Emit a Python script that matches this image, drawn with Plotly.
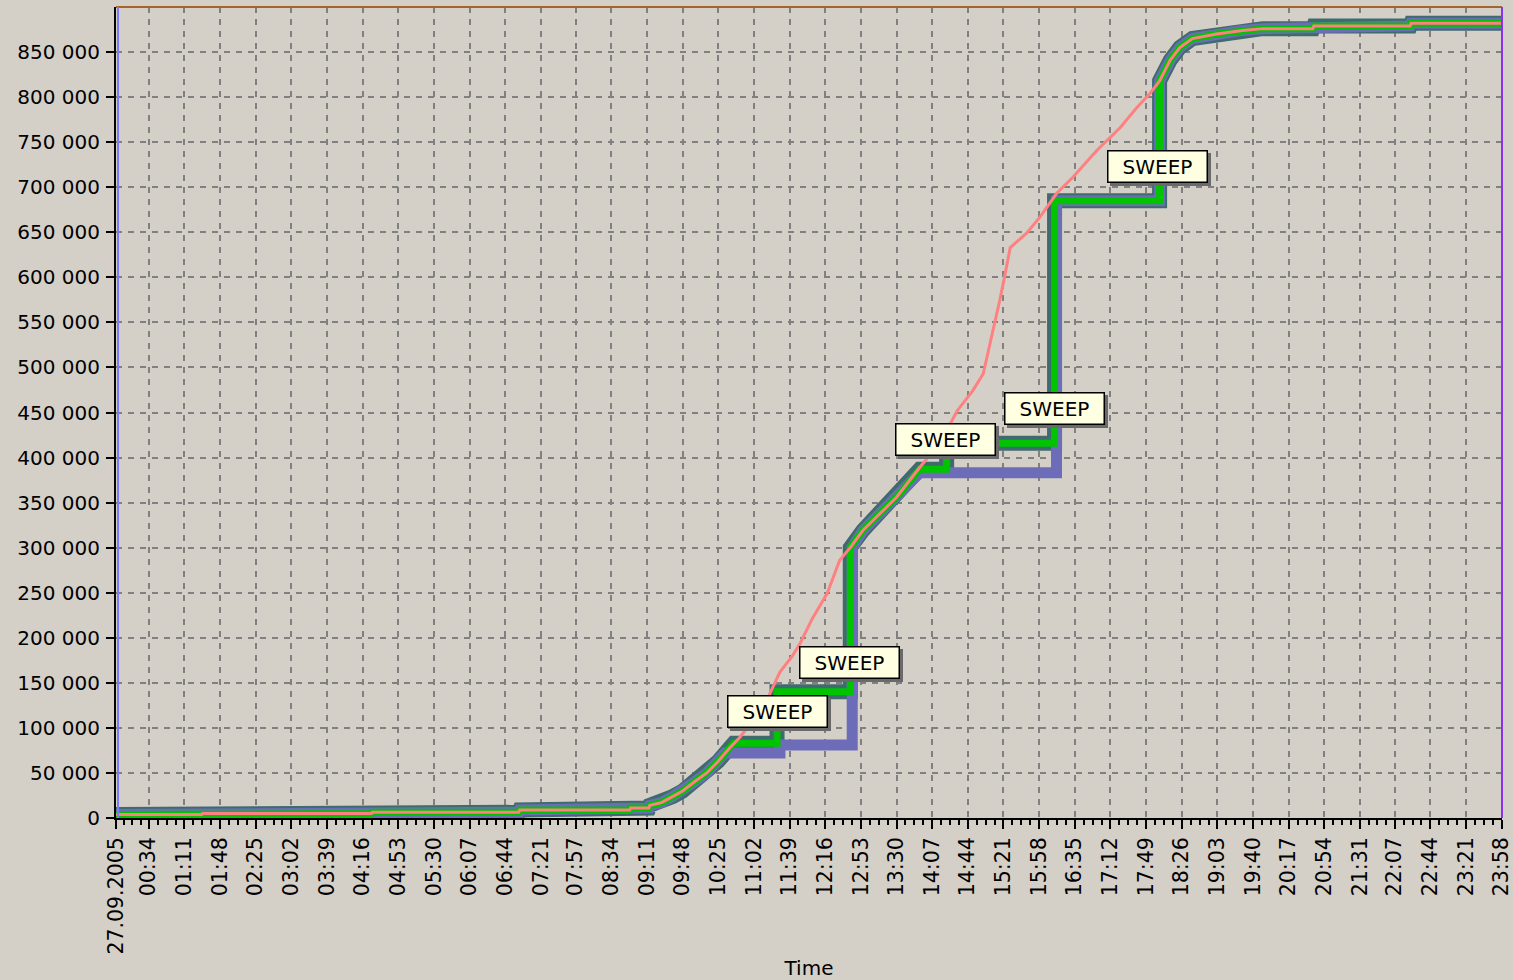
import plotly.graph_objects as go
import pandas as pd

DAY = "2005-09-27 "

# ---- shared low segment (all series coincide) ----
low_t = ["00:00", "01:29", "01:30", "04:25", "04:26", "06:58", "06:59", "08:53", "08:54",
         "09:13", "09:14", "09:26", "09:38", "09:48", "10:00", "10:13", "10:25"]
low_v = [3900, 3900, 5000, 5000, 6300, 6300, 8900, 8900, 11100,
         11100, 14000, 17000, 24000, 30000, 40000, 50000, 63000]

# ---- actual (pink) middle segment ----
pink_mid_t = ["10:37", "10:47", "11:01", "11:15", "11:29", "11:42", "11:50", "12:03", "12:18",
              "12:31", "12:42", "12:55", "13:12", "13:30", "13:54", "14:15", "14:33", "14:49",
              "15:00", "15:04", "15:10", "15:17", "15:22", "15:28", "15:45", "15:59", "16:16",
              "16:33", "16:58", "17:22", "17:39", "17:53", "18:03"]
pink_mid_v = [78000, 89000, 108000, 130000, 162000, 180000, 194000, 222000, 249000,
              286000, 300000, 319000, 337000, 356000, 389000, 416000, 452000, 474000,
              493000, 512000, 537000, 574000, 600000, 633000, 649000, 667000, 693000,
              711000, 741000, 766000, 788000, 804000, 818000]

# ---- green (sweep) middle segment ----
green_mid_t = ["10:37", "10:41", "11:26", "11:26", "12:42", "12:42", "12:55", "13:12", "13:30",
               "13:54", "14:22", "14:22", "16:14", "16:14", "18:03", "18:03"]
green_mid_v = [78000, 83000, 83000, 140000, 140000, 300000, 319000, 337000, 356000,
               387000, 387000, 416000, 416000, 685000, 685000, 818000]

# ---- blue middle segment ----
blue_mid_t = ["10:32", "11:29", "11:29", "12:44", "12:44", "12:55", "13:12", "13:30",
              "13:54", "16:16", "16:16", "18:03", "18:03"]
blue_mid_v = [72000, 72000, 81000, 81000, 300000, 319000, 337000, 356000,
              383000, 383000, 685000, 685000, 818000]

# ---- shared tail segment ----
tail_t = ["18:14", "18:24", "18:37", "19:02", "19:29", "19:50", "20:42", "20:43",
          "22:23", "22:24", "23:58"]
tail_v = [841000, 855000, 865000, 870000, 874000, 876000, 876000, 879000,
          879000, 882000, 882000]

# ---- sweep labels ----
sweep_t = ["11:26", "12:41", "14:21", "16:14", "18:01"]
sweep_label_y = [118000, 173000, 420000, 454000, 723000]

# ---- axis ticks ----
tick_times = ["00:00", "00:34", "01:11", "01:48", "02:25", "03:02", "03:39", "04:16", "04:53",
              "05:30", "06:07", "06:44", "07:21", "07:57", "08:34", "09:11", "09:48", "10:25",
              "11:02", "11:39", "12:16", "12:53", "13:30", "14:07", "14:44", "15:21", "15:58",
              "16:35", "17:12", "17:49", "18:26", "19:03", "19:40", "20:17", "20:54", "21:31",
              "22:07", "22:44", "23:21", "23:58"]
tick_text = ["27.09.2005"] + tick_times[1:]
y_ticks = list(range(0, 850001, 50000))


def ts(lst):
    return [DAY + t for t in lst]


pink_t = low_t + pink_mid_t + tail_t
pink_v = low_v + pink_mid_v + tail_v
green_t = low_t + green_mid_t + tail_t
green_v = low_v + green_mid_v + tail_v
blue_t = low_t + blue_mid_t + tail_t
blue_v = low_v + blue_mid_v + tail_v

# minor ticks: 4 subdivisions between majors
major_dt = pd.to_datetime(ts(tick_times))
minor_vals = []
for a, b in zip(major_dt[:-1], major_dt[1:]):
    for k in (1, 2, 3):
        minor_vals.append((a + (b - a) * k / 4).strftime("%Y-%m-%d %H:%M:%S"))

fig = go.Figure()
fig.add_trace(go.Scatter(x=ts(green_t), y=green_v, mode="lines",
                         line=dict(color="#3f6a6e", width=15), hoverinfo="skip"))
fig.add_trace(go.Scatter(x=ts(blue_t), y=blue_v, mode="lines",
                         line=dict(color="#6c6cb8", width=11)))
fig.add_trace(go.Scatter(x=ts(green_t), y=green_v, mode="lines",
                         line=dict(color="#00c400", width=7)))
fig.add_trace(go.Scatter(x=ts(pink_t), y=pink_v, mode="lines",
                         line=dict(color="#ff8080", width=3)))

for t, yv in zip(sweep_t, sweep_label_y):
    fig.add_annotation(x=DAY + t, y=yv, text="SWEEP", showarrow=False,
                       bgcolor="#6a6a6a", bordercolor="#6a6a6a", borderwidth=1.5,
                       width=94, height=26, borderpad=2, xshift=3, yshift=-3,
                       font=dict(size=20, color="rgba(0,0,0,0)"))
    fig.add_annotation(x=DAY + t, y=yv, text="SWEEP", showarrow=False,
                       bgcolor="#ffffe1", bordercolor="black", borderwidth=1.5,
                       width=94, height=26, borderpad=2,
                       font=dict(size=20, color="black"))

fig.update_layout(
    width=1513, height=980,
    margin=dict(l=116, r=11, t=7, b=162),
    paper_bgcolor="#d4d0c8", plot_bgcolor="#d4d0c8",
    showlegend=False,
    font=dict(family="DejaVu Sans", size=20, color="black"),
    shapes=[
        dict(type="line", xref="x domain", yref="y domain", x0=0, x1=1, y0=1, y1=1,
             line=dict(color="#a5642e", width=2)),
        dict(type="line", xref="x domain", yref="y domain", x0=1, x1=1, y0=0, y1=1,
             line=dict(color="#8c2ff0", width=2)),
        dict(type="line", xref="x domain", yref="y domain", xsizemode="pixel", xanchor=0,
             x0=2, x1=2, y0=0, y1=1, line=dict(color="#7a7aff", width=2)),
    ],
)

fig.update_xaxes(
    type="date", range=[DAY + "00:00", DAY + "23:58:20"],
    tickmode="array", tickvals=ts(tick_times), ticktext=tick_text, tickangle=-90,
    ticks="outside", ticklen=9, tickwidth=1.5, tickcolor="black",
    showline=True, linecolor="black", linewidth=2,
    showgrid=True, gridcolor="#808080", gridwidth=1.5, griddash="6px,6px",
    minor=dict(tickvals=minor_vals, ticks="outside", ticklen=5, tickwidth=1.5,
               tickcolor="black", showgrid=False),
    title=dict(text="Time", standoff=7, font=dict(size=20)),
    zeroline=False, automargin=False, ticklabelstandoff=0,
    ticklabeloverflow="allow",
    tickfont=dict(size=20.5),
)
fig.update_yaxes(
    range=[0, 900000], tickmode="array", tickvals=y_ticks,
    ticktext=[f"{v:,}".replace(",", " ") for v in y_ticks],
    ticks="outside", ticklen=8, tickwidth=1.5, tickcolor="black",
    showline=True, linecolor="black", linewidth=2,
    showgrid=True, gridcolor="#808080", gridwidth=1.5, griddash="6px,6px",
    zeroline=False, automargin=False, ticklabelstandoff=2,
    tickfont=dict(size=20),
)

fig.write_html("out.html", config={"displayModeBar": False},
               post_script="document.body.style.margin='0px';document.body.style.background='#d4d0c8';")
